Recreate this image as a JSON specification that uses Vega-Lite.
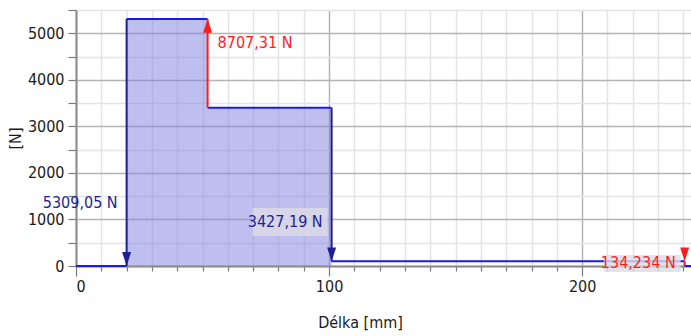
{
  "$schema": "https://vega.github.io/schema/vega-lite/v6.json",
  "width": 615,
  "height": 256,
  "autosize": {"type": "none"},
  "padding": {"left": 76, "top": 10, "right": 0, "bottom": 70},
  "background": "#ffffff",
  "config": {
    "view": {"stroke": null},
    "font": "Liberation Sans Narrow, DejaVu Sans Condensed, sans-serif",
    "axis": {
      "labelFont": "Liberation Sans Narrow, DejaVu Sans Condensed, sans-serif",
      "titleFont": "Liberation Sans Narrow, DejaVu Sans Condensed, sans-serif",
      "labelColor": "#1a1a1a",
      "titleColor": "#1a1a1a",
      "labelFontSize": 16,
      "titleFontSize": 16,
      "titleFontWeight": "normal",
      "domainColor": "#8c8c8c",
      "domainWidth": 2,
      "tickColor": "#7a7a7a",
      "tickWidth": 1.2,
      "gridWidth": 1.5
    }
  },
  "datasets": {
    "profile": [
      {"x": 20, "v": 5309.05},
      {"x": 52, "v": 3398.26},
      {"x": 101, "v": 3398.26}
    ],
    "segments": [
      {"x": 0, "x2": 20, "v": 0, "v2": 0, "kind": "profil"},
      {"x": 20, "x2": 52, "v": 5309.05, "v2": 5309.05, "kind": "profil"},
      {"x": 52, "x2": 101, "v": 3398.26, "v2": 3398.26, "kind": "profil"},
      {"x": 101, "x2": 240.5, "v": 100, "v2": 100, "kind": "profil"},
      {"x": 240.5, "x2": 243, "v": 0, "v2": 0, "kind": "profil"},
      {"x": 20, "x2": 20, "v": 5309.05, "v2": 0, "kind": "zatížení"},
      {"x": 52, "x2": 52, "v": 3398.26, "v2": 5309.05, "kind": "reakce"},
      {"x": 101, "x2": 101, "v": 3398.26, "v2": 100, "kind": "zatížení"},
      {"x": 240.5, "x2": 240.5, "v": 100, "v2": 0, "kind": "reakce"}
    ],
    "heads": [
      {"x": 20, "v": 0, "dir": "dolů", "kind": "zatížení"},
      {"x": 52, "v": 5309.05, "dir": "nahoru", "kind": "reakce"},
      {"x": 101, "v": 100, "dir": "dolů", "kind": "zatížení"},
      {"x": 240.5, "v": 100, "dir": "dolů", "kind": "reakce"}
    ],
    "labels": [
      {"x": 20, "v": 1355, "text": "5309,05 N", "kind": "zatížení", "side": "left"},
      {"x": 52, "v": 4796, "text": "8707,31 N", "kind": "reakce", "side": "right"},
      {"x": 101, "v": 946, "text": "3427,19 N", "kind": "zatížení", "side": "left"},
      {"x": 240.5, "v": 65, "text": "134,234 N", "kind": "reakce", "side": "left"}
    ]
  },
  "resolve": {"scale": {"shape": "independent"}},
  "layer": [
    {
      "data": {"name": "profile"},
      "mark": {"type": "area", "interpolate": "step-after", "color": "#8080e0", "opacity": 0.5},
      "encoding": {
        "x": {
          "field": "x", "type": "quantitative",
          "scale": {"domain": [0, 243], "nice": false, "zero": false},
          "axis": {
            "orient": "bottom",
            "tickCount": 100,
            "values": [0, 10, 20, 30, 40, 50, 60, 70, 80, 90, 100, 110, 120, 130, 140, 150, 160, 170, 180, 190, 200, 210, 220, 230, 240],
            "labelExpr": "datum.value % 100 === 0 ? datum.value : ''",
            "labelOverlap": false,
            "labelPadding": 2,
            "title": "Délka [mm]", "titleX": 284, "titleY": 56,
            "titleAlign": "center", "titleBaseline": "middle",
            "tickSize": {"condition": {"test": "datum.value % 100 === 0", "value": 10}, "value": 5},
            "grid": true,
            "gridColor": {"condition": {"test": "datum.value % 100 === 0", "value": "#b4b4b4"}, "value": "#e4e4e4"}
          }
        },
        "y": {
          "field": "v", "type": "quantitative", "stack": null,
          "scale": {"domain": [0, 5500], "nice": false},
          "axis": {
            "orient": "left",
            "tickCount": 100,
            "values": [0, 500, 1000, 1500, 2000, 2500, 3000, 3500, 4000, 4500, 5000, 5500],
            "labelExpr": "datum.value % 1000 === 0 ? datum.value : ''",
            "labelOverlap": false,
            "tickSize": 8, "labelPadding": 4,
            "title": "[N]", "titlePadding": 4,
            "grid": true,
            "gridColor": {"condition": {"test": "datum.value % 1000 === 0", "value": "#b4b4b4"}, "value": "#e4e4e4"}
          }
        }
      }
    },
    {
      "data": {"name": "segments"},
      "mark": {"type": "rule", "strokeWidth": 2},
      "encoding": {
        "x": {"field": "x", "type": "quantitative"},
        "x2": {"field": "x2"},
        "y": {"field": "v", "type": "quantitative"},
        "y2": {"field": "v2"},
        "color": {
          "field": "kind", "type": "nominal", "legend": null,
          "scale": {"domain": ["profil", "zatížení", "reakce"], "range": ["#1a1ae6", "#1e1e96", "#ff1c1c"]}
        }
      }
    },
    {
      "data": {"name": "heads"},
      "mark": {"type": "point", "filled": true, "opacity": 1, "size": 81, "strokeWidth": 0},
      "encoding": {
        "x": {"field": "x", "type": "quantitative"},
        "y": {"field": "v", "type": "quantitative"},
        "shape": {
          "field": "dir", "type": "nominal", "legend": null,
          "scale": {"domain": ["dolů", "nahoru"], "range": ["M-1,-3.1L1,-3.1L0,0Z", "M-1,3.1L1,3.1L0,0Z"]}
        },
        "color": {
          "field": "kind", "type": "nominal", "legend": null,
          "scale": {"domain": ["profil", "zatížení", "reakce"], "range": ["#1a1ae6", "#1e1e96", "#ff1c1c"]}
        }
      }
    },
    {
      "data": {"name": "labels"},
      "transform": [{"filter": "datum.text === '3427,19 N' || datum.text === '134,234 N'"}],
      "mark": {"type": "point", "filled": true, "opacity": 0.8, "size": 100, "strokeWidth": 0, "color": "#dcdce6"},
      "encoding": {
        "x": {"field": "x", "type": "quantitative"},
        "y": {"field": "v", "type": "quantitative"},
        "shape": {
          "field": "text", "type": "nominal", "legend": null,
          "scale": {"domain": ["3427,19 N", "134,234 N"], "range": ["M-15.8,-2.8L-0.8,-2.8L-0.8,2.8L-15.8,2.8Z", "M-16.2,-1.6L-0.8,-1.6L-0.8,1.8L-16.2,1.8Z"]}
        }
      }
    },
    {
      "data": {"name": "labels"},
      "transform": [{"filter": "datum.side === 'left'"}],
      "mark": {"type": "text", "align": "right", "baseline": "middle", "dx": -9, "fontSize": 16},
      "encoding": {
        "x": {"field": "x", "type": "quantitative"},
        "y": {"field": "v", "type": "quantitative"},
        "text": {"field": "text"},
        "color": {
          "field": "kind", "type": "nominal", "legend": null,
          "scale": {"domain": ["profil", "zatížení", "reakce"], "range": ["#1a1ae6", "#2a2a8c", "#ff1c1c"]}
        }
      }
    },
    {
      "data": {"name": "labels"},
      "transform": [{"filter": "datum.side === 'right'"}],
      "mark": {"type": "text", "align": "left", "baseline": "middle", "dx": 10, "fontSize": 16},
      "encoding": {
        "x": {"field": "x", "type": "quantitative"},
        "y": {"field": "v", "type": "quantitative"},
        "text": {"field": "text"},
        "color": {
          "field": "kind", "type": "nominal", "legend": null,
          "scale": {"domain": ["profil", "zatížení", "reakce"], "range": ["#1a1ae6", "#2a2a8c", "#ff1c1c"]}
        }
      }
    }
  ]
}
